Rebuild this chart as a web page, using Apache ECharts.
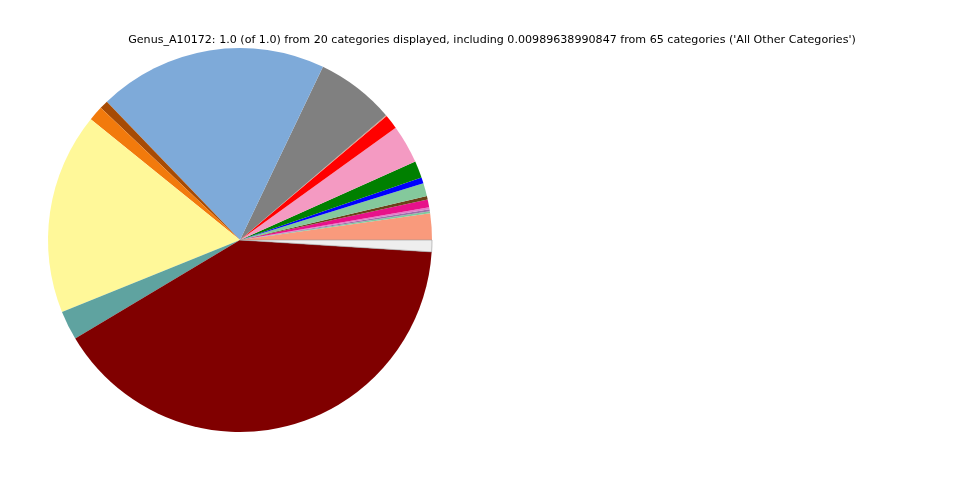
<!DOCTYPE html>
<html>
<head>
<meta charset="utf-8">
<script src="https://cdn.jsdelivr.net/npm/echarts@6/dist/echarts.min.js"></script>
<style>
html,body{margin:0;padding:0;background:#fff;}
#chart{width:960px;height:480px;}
</style>
</head>
<body>
<div id="chart"></div>
<script>
var titleText = "Genus_A10172: 1.0 (of 1.0) from 20 categories displayed, including 0.00989638990847 from 65 categories ('All Other Categories')";
var categories = ["Cat01","Cat02","Cat03","Cat04","Cat05","Cat06","Cat07","Cat08","Cat09","Cat10",
                  "Cat11","Cat12","Cat13","Cat14","Cat15","Cat16","Cat17","Cat18","Cat19","All Other Categories"];
var values = [0.0222,0.0017,0.0017,0.0016,0.0067,0.0028,0.0111,0.0050,0.0142,0.0325,
              0.0122,0.0008,0.0664,0.1931,0.0072,0.0125,0.1694,0.0247,0.4043,0.0099];
var colors = ["#f99a7c","#7fc99e","#9b6fa8","#e27bc8","#e8118a","#6b4218","#84c99c","#0000ff","#008000","#f49ac2",
              "#ff0000","#e0907a","#808080","#7eaad9","#a64b05","#f27a0c","#fff899","#5fa3a0","#800000","#eeeeee"];

var chart = echarts.init(document.getElementById('chart'), null, {renderer:'canvas'});
var data = categories.map(function(c,i){
  var d = {name:c, value:values[i], itemStyle:{color:colors[i]}};
  if (c === "All Other Categories") { d.itemStyle.borderColor = '#999'; d.itemStyle.borderWidth = 0.6; }
  return d;
});
chart.setOption({
  animation:false,
  graphic:[{
    type:'text', x:492, y:40,
    style:{text:titleText, fontFamily:'DejaVu Sans', fontSize:11.1, fill:'#000',
      textAlign:'center', textVerticalAlign:'middle'}
  }],
  series:[{
    type:'pie',
    center:[240,240],
    radius:[0,192],
    startAngle:0,
    clockwise:false,
    minAngle:0,
    avoidLabelOverlap:false,
    label:{show:false},
    labelLine:{show:false},
    emphasis:{disabled:true},
    itemStyle:{borderWidth:0},
    data:data
  }]
});
</script>
</body>
</html>
